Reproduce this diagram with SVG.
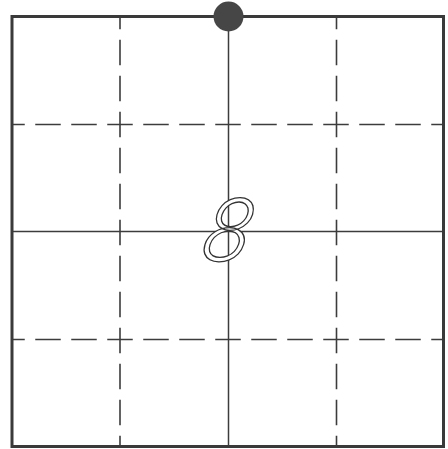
<svg xmlns="http://www.w3.org/2000/svg" width="448" height="449" viewBox="0 0 448 449">
  <style>
    .grid-solid { stroke: #3c3c3c; stroke-width: 1.5; fill: none; }
    .grid-dash { stroke: #3c3c3c; stroke-width: 1.6; fill: none; stroke-dasharray: 25.5 10.5; stroke-dashoffset: 12.75; }
    .frame { stroke: #3a3a3a; stroke-width: 3; fill: none; }
    .digit { font-family: Roboto, "Liberation Sans", sans-serif; font-style: italic; font-weight: 300; font-size: 88px; fill: #ffffff; stroke: #333333; stroke-width: 1.3; }
  </style>
  <rect width="448" height="449" fill="#ffffff"/>
  <g id="grid">
    <line class="grid-dash" x1="120" y1="16.5" x2="120" y2="446.5"/>
    <line class="grid-dash" x1="336.5" y1="16.5" x2="336.5" y2="446.5"/>
    <line class="grid-dash" x1="12" y1="124.5" x2="443.5" y2="124.5"/>
    <line class="grid-dash" x1="12" y1="339.5" x2="443.5" y2="339.5"/>
    <line class="grid-solid" x1="228.5" y1="16.5" x2="228.5" y2="446.5"/>
    <line class="grid-solid" x1="12" y1="231.5" x2="443.5" y2="231.5"/>
  </g>
  <g id="frame">
    <rect class="frame" x="12" y="16.5" width="431.5" height="430"/>
  </g>
  <g id="dot">
    <circle cx="228.5" cy="16.5" r="15" fill="#464646"/>
  </g>
  <g id="digit">
    <text class="digit" x="0" y="0" text-anchor="middle" transform="translate(223 261) skewX(-10) scale(1.0 1.0)">8</text>
  </g>
</svg>
